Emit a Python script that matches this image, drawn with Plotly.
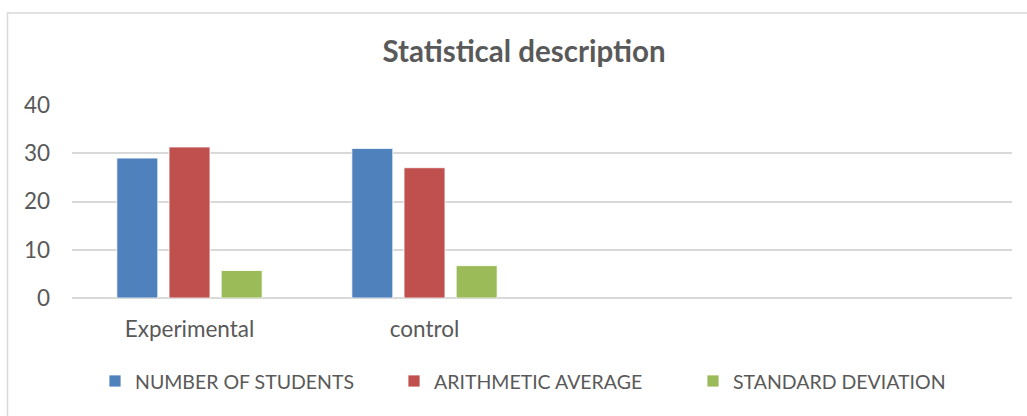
import plotly.graph_objects as go

# Groups shown on the category axis
categories = ["Experimental", "control"]

# Series values per group
number_of_students = [29, 31]
arithmetic_average = [31.3, 27]
standard_deviation = [5.7, 6.7]

series_names = ["NUMBER OF STUDENTS", "ARITHMETIC AVERAGE", "STANDARD DEVIATION"]
series_colors = ["#4F81BD", "#C0504D", "#9BBB59"]

y_ticks = [0, 10, 20, 30, 40]

FONT = "Lato, 'Open Sans', sans-serif"
TEXT = "#595959"
GRID = "#D9D9D9"

fig = go.Figure()
for name, vals, color in zip(series_names,
                             [number_of_students, arithmetic_average, standard_deviation],
                             series_colors):
    fig.add_trace(go.Bar(
        x=categories, y=vals, name=name,
        marker=dict(color=color, line=dict(color="white", width=0.8)),
    ))

W, H = 1027, 416
L, R, T, B = 72, 15, 105, 118
pw, ph = W - L - R, H - T - B

# light chart-area frame
fig.add_shape(type="rect", xref="paper", yref="paper",
              x0=(7.5 - L) / pw, x1=(W + 20 - L) / pw,
              y0=-(B + 20) / ph, y1=1 + (T - 13) / ph,
              line=dict(color=GRID, width=1.5), fillcolor="rgba(0,0,0,0)", layer="below")

fig.update_layout(
    width=W, height=H,
    margin=dict(l=L, r=R, t=T, b=B, pad=0, autoexpand=False),
    paper_bgcolor="white", plot_bgcolor="white",
    barmode="group", bargap=0.334, bargroupgap=0.215,
    title=dict(text="<b>Statistical description</b>", x=524 / W, xanchor="center",
               y=1 - 52 / H, yanchor="middle",
               font=dict(family=FONT, size=29.5, color=TEXT)),
    font=dict(family=FONT, size=22, color=TEXT),
    xaxis=dict(type="category", range=[-0.5, 3.5], showgrid=False, showline=False,
               ticks="", tickfont=dict(size=22.5, color=TEXT), ticklabelstandoff=15),
    yaxis=dict(range=[0, 40], tickvals=y_ticks, showgrid=True, gridcolor=GRID, gridwidth=1.5,
               zeroline=True, zerolinecolor=GRID, zerolinewidth=1.5, showline=False,
               ticks="", tickfont=dict(size=22.5, color=TEXT), ticklabelstandoff=21),
    legend=dict(orientation="h", x=(95 - L) / pw, xanchor="left",
                y=-(381 - 297.7) / ph, yanchor="middle",
                font=dict(size=19.5, color=TEXT), entrywidth=254, itemwidth=30,
                bgcolor="rgba(0,0,0,0)"),
    showlegend=True,
)

fig.write_html("out.html")
